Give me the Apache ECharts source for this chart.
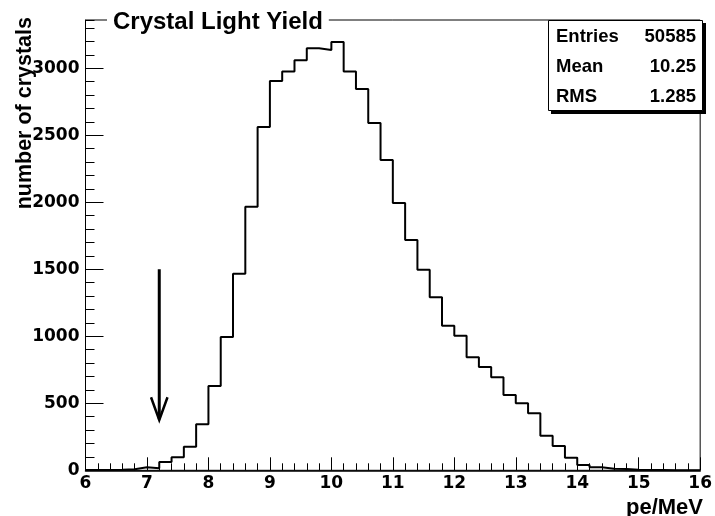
<!DOCTYPE html>
<html>
<head>
<meta charset="utf-8">
<script src="https://cdn.jsdelivr.net/npm/echarts@6/dist/echarts.min.js"></script>
<style>html,body{margin:0;padding:0;background:#fff}#c{width:715px;height:516px}</style>
</head>
<body>
<div id="c"></div>
<script>
// Bin lower edges (plus final upper edge), pe/MeV
const binEdges = [6.0,6.2,6.4,6.6,6.8,7.0,7.2,7.4,7.6,7.8,8.0,8.2,8.4,8.6,8.8,9.0,9.2,9.4,9.6,9.8,
  10.0,10.2,10.4,10.6,10.8,11.0,11.2,11.4,11.6,11.8,12.0,12.2,12.4,12.6,12.8,13.0,13.2,13.4,13.6,13.8,
  14.0,14.2,14.4,14.6,14.8,15.0,15.2,15.4,15.6,15.8,16.0];
// Counts per bin
const counts = [3,3,5,8,22,15,62,97,176,343,629,995,1467,1967,2562,2905,2975,3060,3149,3137,
  3196,2975,2846,2592,2316,1994,1718,1497,1291,1079,1004,843,771,694,562,500,425,258,181,94,
  40,22,12,10,5,3,2,1,1,0];
const xTicks = [6,7,8,9,10,11,12,13,14,15,16];
const yTicks = [0,500,1000,1500,2000,2500,3000];
const statsLabels = ['Entries','Mean','RMS'];
const statsValues = ['50585','10.25','1.285'];
// Arrow annotation (data units)
const arrowShaft = [[7.2,1500],[7.2,380]];
const arrowHead = [[7.066,545],[7.2,375],[7.334,545]];

const histData = [];
for (let i = 0; i < counts.length; i++) histData.push([binEdges[i], counts[i]]);
histData.push([binEdges[binEdges.length-1], counts[counts.length-1]]);

const FONT = 'DejaVu Sans';
const HFONT = 'Liberation Sans';
const chart = echarts.init(document.getElementById('c'), null, {renderer:'canvas'});
const gL = 85.5, gR = 11.5, gT = 20, gB = 45.7;
const yMax = 3360;

const statsGraphics = [];
statsGraphics.push({type:'rect', shape:{x:551,y:23,width:155,height:91}, style:{fill:'#000'}, z:100});
statsGraphics.push({type:'rect', shape:{x:548.5,y:20.5,width:154,height:90}, style:{fill:'#fff', stroke:'#000', lineWidth:1}, z:101});
const rowY = [37, 67, 97];
for (let i = 0; i < statsLabels.length; i++) {
  statsGraphics.push({type:'text', x:556, y:rowY[i], z:102, style:{text:statsLabels[i], font:'bold 18.5px '+HFONT, fill:'#000', textAlign:'left', textVerticalAlign:'middle'}});
  statsGraphics.push({type:'text', x:696, y:rowY[i], z:102, style:{text:statsValues[i], font:'bold 18.5px '+HFONT, fill:'#000', textAlign:'right', textVerticalAlign:'middle'}});
}

chart.setOption({
  animation:false,
  backgroundColor:'#fff',
  title:{text:'Crystal Light Yield', left:107, top:8, padding:[2,6,2,6], backgroundColor:'#fff',
    textStyle:{fontFamily:HFONT, fontWeight:'bold', fontSize:24, color:'#000'}},
  grid:{left:gL, right:gR, top:gT, bottom:gB, show:true, borderColor:'#000', borderWidth:1, backgroundColor:'transparent'},
  xAxis:{type:'value', min:6, max:16, interval:1,
    axisLine:{show:true, onZero:false, lineStyle:{color:'#000', width:1.5}},
    axisTick:{show:true, inside:true, length:13, lineStyle:{color:'#000', width:1}},
    minorTick:{show:true, splitNumber:5, length:7, lineStyle:{color:'#000', width:1}},
    splitLine:{show:false},
    axisLabel:{margin:5, color:'#000', fontFamily:FONT, fontWeight:'bold', fontSize:17,
      formatter:function(v){return xTicks.indexOf(v)>=0?String(v):'';}}},
  yAxis:[{type:'value', min:0, max:yMax, interval:500,
    axisLine:{show:true, lineStyle:{color:'#000', width:1}},
    axisTick:{show:true, inside:true, length:18, lineStyle:{color:'#000', width:1}},
    splitLine:{show:false},
    axisLabel:{margin:6, color:'#000', fontFamily:FONT, fontWeight:'bold', fontSize:17, showMaxLabel:false,
      formatter:function(v){return yTicks.indexOf(v)>=0?String(v):'';}}},
   {type:'value', min:0, max:yMax, interval:100, position:'left',
    axisLine:{show:false}, axisTick:{show:true, inside:true, length:9, lineStyle:{color:'#000', width:1}},
    axisLabel:{show:false}, splitLine:{show:false}}],
  series:[
    {type:'line', data:histData, step:'end', symbol:'none', yAxisIndex:0,
      lineStyle:{color:'#000', width:2}, z:5},
    {type:'line', data:arrowShaft, symbol:'none', yAxisIndex:0, lineStyle:{color:'#000', width:3}, z:6},
    {type:'line', data:arrowHead, symbol:'none', yAxisIndex:0, lineStyle:{color:'#000', width:2.5, join:'miter'}, z:6}
  ],
  graphic:[
    {type:'text', x:25, y:17, rotation:Math.PI/2, z:50,
      style:{text:'number of crystals', font:'bold 21.5px '+HFONT, fill:'#000', textAlign:'right', textVerticalAlign:'middle'}},
    {type:'text', x:703, y:508, z:50,
      style:{text:'pe/MeV', font:'bold 22px '+HFONT, fill:'#000', textAlign:'right', textVerticalAlign:'middle'}}
  ].concat(statsGraphics)
});
</script>
</body>
</html>
